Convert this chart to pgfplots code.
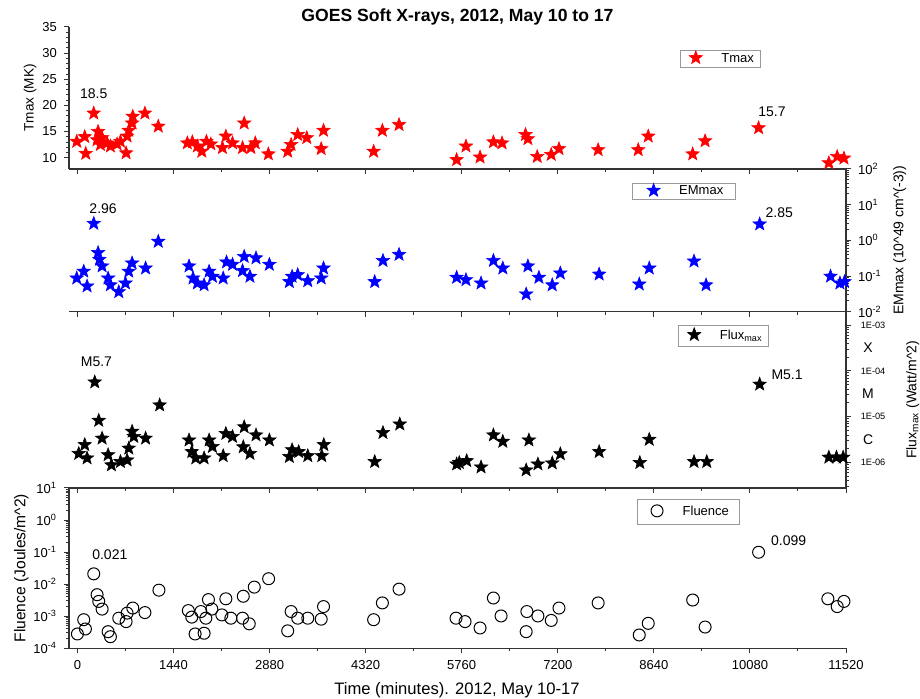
\documentclass[border=0pt]{standalone}
\usepackage{fontspec}
\setmainfont{Liberation Sans}
\usepackage{pgfplots}
\pgfplotsset{compat=1.18}

% filled five-pointed star mark
\pgfdeclareplotmark{fstar}{%
  \pgfpathmoveto{\pgfpointpolar{90}{\pgfplotmarksize}}%
  \pgfpathlineto{\pgfpointpolar{126}{0.42\pgfplotmarksize}}%
  \pgfpathlineto{\pgfpointpolar{162}{\pgfplotmarksize}}%
  \pgfpathlineto{\pgfpointpolar{198}{0.42\pgfplotmarksize}}%
  \pgfpathlineto{\pgfpointpolar{234}{\pgfplotmarksize}}%
  \pgfpathlineto{\pgfpointpolar{270}{0.42\pgfplotmarksize}}%
  \pgfpathlineto{\pgfpointpolar{306}{\pgfplotmarksize}}%
  \pgfpathlineto{\pgfpointpolar{342}{0.42\pgfplotmarksize}}%
  \pgfpathlineto{\pgfpointpolar{18}{\pgfplotmarksize}}%
  \pgfpathlineto{\pgfpointpolar{54}{0.42\pgfplotmarksize}}%
  \pgfpathclose
  \pgfusepathqfillstroke
}

\pgfplotstableread{
x T
-10 13.1
110 14.0
125 10.8
245 18.5
295 13.4
310 15.0
345 12.5
370 13.8
445 12.8
495 12.2
595 12.6
645 13.1
730 10.9
745 14.1
770 15.2
820 16.6
830 17.9
1012 18.5
1212 16.0
1648 12.8
1723 13.0
1798 12.2
1865 11.2
1934 13.1
2000 12.6
2174 11.9
2225 14.1
2325 12.8
2475 11.9
2500 16.6
2600 11.9
2666 12.8
2862 10.7
3152 11.2
3203 12.5
3302 14.4
3438 13.8
3654 11.7
3689 15.2
4440 11.2
4571 15.2
4821 16.3
5684 9.6
5824 12.2
6035 10.1
6235 13.0
6365 12.8
6716 14.4
6752 13.6
6892 10.2
7102 10.6
7218 11.7
7805 11.5
8406 11.5
8556 14.1
9222 10.7
9408 13.2
10210 15.7
11263 9.0
11388 10.2
11489 9.9
}\tmaxdata

\pgfplotstableread{
x EM
-10 0.087
95 0.135
145 0.052
245 2.96
310 0.45
330 0.29
370 0.19
460 0.087
495 0.056
620 0.036
720 0.063
770 0.135
820 0.23
1022 0.166
1212 0.93
1673 0.19
1733 0.087
1798 0.063
1899 0.056
1974 0.135
2024 0.097
2185 0.087
2235 0.245
2325 0.21
2475 0.14
2500 0.35
2586 0.097
2677 0.32
2877 0.21
3177 0.069
3218 0.097
3302 0.108
3453 0.073
3654 0.087
3689 0.166
4456 0.069
4580 0.27
4821 0.40
5684 0.091
5824 0.078
6050 0.063
6235 0.27
6376 0.166
6726 0.031
6752 0.19
6917 0.091
7117 0.056
7238 0.12
7820 0.112
8421 0.059
8571 0.166
9242 0.26
9423 0.056
10226 2.85
11288 0.098
11429 0.063
11498 0.069
}\emdata

\pgfplotstableread{
x F
20 1.58e-6
110 2.46e-6
145 1.26e-6
260 5.7e-5
320 8.3e-6
370 3.4e-6
460 1.48e-6
510 8.9e-7
645 1.05e-6
745 1.14e-6
770 2.06e-6
820 4.8e-6
845 3.7e-6
1022 3.4e-6
1233 1.8e-5
1673 3.1e-6
1714 1.73e-6
1774 1.26e-6
1899 1.26e-6
1974 3.1e-6
2024 2.24e-6
2185 1.41e-6
2225 4.3e-6
2325 3.7e-6
2486 2.2e-6
2500 6.0e-6
2586 1.58e-6
2677 4.0e-6
2877 3.1e-6
3177 1.35e-6
3218 1.9e-6
3317 1.73e-6
3453 1.41e-6
3663 1.41e-6
3693 2.46e-6
4456 1.05e-6
4580 4.5e-6
4832 6.9e-6
5684 9.3e-7
5724 1.0e-6
5835 1.1e-6
6050 8.0e-7
6235 4.0e-6
6376 2.9e-6
6726 6.9e-7
6767 3.1e-6
6902 9.3e-7
7117 9.8e-7
7238 1.55e-6
7820 1.73e-6
8430 1.0e-6
8571 3.2e-6
9242 1.05e-6
9433 1.05e-6
10226 5.1e-5
11263 1.31e-6
11377 1.31e-6
11477 1.31e-6
}\fluxdata

\pgfplotstableread{
x Fl
0 2.8e-4
95 7.8e-4
120 4.0e-4
245 0.021
295 4.7e-3
320 2.9e-3
370 1.67e-3
460 3.3e-4
495 2.3e-4
620 8.7e-4
730 6.8e-4
745 1.25e-3
830 1.8e-3
1012 1.3e-3
1222 6.5e-3
1663 1.5e-3
1714 9.4e-4
1764 2.8e-4
1850 1.4e-3
1899 2.95e-4
1925 8.7e-4
1964 3.3e-3
2015 1.67e-3
2165 1.1e-3
2225 3.5e-3
2300 8.7e-4
2475 8.7e-4
2486 4.2e-3
2576 5.8e-4
2651 8.1e-3
2866 0.0148
3152 3.5e-4
3203 1.4e-3
3302 8.7e-4
3453 8.7e-4
3654 8.1e-4
3689 2.0e-3
4440 7.8e-4
4571 2.6e-3
4821 7.0e-3
5675 8.7e-4
5810 6.8e-4
6035 4.3e-4
6235 3.7e-3
6350 1.02e-3
6726 3.3e-4
6737 1.4e-3
6902 1.02e-3
7102 7.4e-4
7218 1.8e-3
7805 2.6e-3
8421 2.6e-4
8556 6.0e-4
9222 3.2e-3
9408 4.6e-4
10210 0.099
11248 3.5e-3
11388 2.0e-3
11489 2.9e-3
}\fluencedata

\tikzset{ann/.style={font=\fontsize{7}{8}\selectfont}}

\pgfplotsset{
  panel/.style={
    scale only axis, width=388.5pt, anchor=south west,
    xmin=-126, xmax=11520,
    xtick={0,1440,...,11520}, minor xtick={720,2160,...,10800},
    xticklabels={}, scaled x ticks=false,
    tick align=outside,
    major tick length=2.5pt, minor tick length=1.6pt,
    axis line style={line width=0.6pt, black!80},
    every tick/.append style={line width=0.5pt, black!80},
    tick label style={font=\fontsize{6.5}{7}\selectfont},
    ylabel style={font=\fontsize{7}{8}\selectfont},
    legend image code/.code={%
      \path[draw=none, fill=none] (0cm,-0.105cm) rectangle (0.62cm,0.155cm);
      \draw[##1] plot coordinates {(0.24cm,0.025cm)};},
    legend style={draw=black!40, line width=0.4pt,
      font=\fontsize{6.5}{7}\selectfont, anchor=north west,
      inner xsep=1pt, inner ysep=0pt, nodes={inner ysep=1pt}},
    /pgf/number format/assume math mode=true,
    /pgf/number format/1000 sep={},
  },
}

\begin{document}
\begin{tikzpicture}
\path[use as bounding box] (0,0) rectangle (460pt,349.5pt);

% Tmax
\begin{axis}[panel, at={(34.5pt,265pt)}, height=71pt,
  ymin=7.84, ymax=35, ytick={10,15,...,35}, minor y tick num=4,
  axis x line*=bottom, axis y line*=left,
  ylabel={Tmax (MK)},
  ylabel style={at={(axis description cs:-0.050,0.5)}, anchor=center, font=\fontsize{6.8}{8}\selectfont},
  legend style={at={(axis description cs:0.786,0.838)}}]
\addplot[only marks, mark=fstar, mark size=3.5pt, mark options={fill=red, draw=red, line width=0.3pt}] table[x=x, y=T] {\tmaxdata};
\legend{Tmax}
\node[ann] at (axis cs:245,22.2) {18.5};
\node[ann] at (axis cs:10410,18.7) {15.7};
\end{axis}

% EMmax
\begin{axis}[panel, at={(34.5pt,193.65pt)}, height=71.35pt,
  ymode=log, ymin=1e-2, ymax=1e2,
  ytick={1e-2,1e-1,1,1e1,1e2},
  minor ytick={0.02,0.03,0.04,0.05,0.06,0.07,0.08,0.09,0.2,0.3,0.4,0.5,0.6,0.7,0.8,0.9,2,3,4,5,6,7,8,9,20,30,40,50,60,70,80,90},
  yticklabels={10\textsuperscript{-2},10\textsuperscript{-1},10\textsuperscript{0},10\textsuperscript{1},10\textsuperscript{2}},
  axis x line*=bottom, axis y line*=right,
  ylabel={EMmax (10\textasciicircum 49 cm\textasciicircum(-3))},
  ylabel style={at={(axis description cs:1.069,0.5)}, anchor=center},
  legend style={at={(axis description cs:0.724,0.904)}, inner xsep=4pt}]
\addplot[only marks, mark=fstar, mark size=3.5pt, mark options={fill=blue, draw=blue, line width=0.3pt}] table[x=x, y=EM] {\emdata};
\legend{EMmax}
\node[ann] at (axis cs:385,7.76) {2.96};
\node[ann] at (axis cs:10520,5.98) {2.85};
\end{axis}

% Flux
\begin{axis}[panel, at={(34.5pt,105.5pt)}, height=88.15pt,
  ymode=log, ymin=2.81e-7, ymax=1.95e-3,
  ytick={1e-6,1e-5,1e-4,1e-3},
  minor ytick={3e-7,4e-7,5e-7,6e-7,7e-7,8e-7,9e-7,2e-6,3e-6,4e-6,5e-6,6e-6,7e-6,8e-6,9e-6,2e-5,3e-5,4e-5,5e-5,6e-5,7e-5,8e-5,9e-5,2e-4,3e-4,4e-4,5e-4,6e-4,7e-4,8e-4,9e-4},
  yticklabels={1E-06,1E-05,1E-04,1E-03},
  extra y ticks={3.16e-6,3.16e-5,3.16e-4},
  extra y tick labels={C,M,X},
  extra y tick style={major tick length=0pt, yticklabel style={font=\fontsize{7}{8}\selectfont}},
  yticklabel style={text width=15pt, align=center, font=\fontsize{4.6}{5.5}\selectfont},
  axis x line*=bottom, axis y line*=right,
  ylabel={Flux\textsubscript{max} (Watt/m\textasciicircum 2)},
  ylabel style={at={(axis description cs:1.086,0.5)}, anchor=center},
  legend style={at={(axis description cs:0.784,0.925)}, inner ysep=1pt}]
\addplot[only marks, mark=fstar, mark size=3.5pt, mark options={fill=black, draw=black, line width=0.3pt}] table[x=x, y=F] {\fluxdata};
\legend{Flux\textsubscript{max}}
\node[ann] at (axis cs:285,1.58e-4) {M5.7};
\node[ann] at (axis cs:10637,8.1e-5) {M5.1};
\end{axis}

% Fluence
\begin{axis}[panel, at={(34.5pt,25.35pt)}, height=80.15pt,
  ymode=log, ymin=1e-4, ymax=10,
  ytick={1e-4,1e-3,1e-2,1e-1,1,10},
  minor ytick={2e-4,3e-4,4e-4,5e-4,6e-4,7e-4,8e-4,9e-4,2e-3,3e-3,4e-3,5e-3,6e-3,7e-3,8e-3,9e-3,0.02,0.03,0.04,0.05,0.06,0.07,0.08,0.09,0.2,0.3,0.4,0.5,0.6,0.7,0.8,0.9,2,3,4,5,6,7,8,9},
  yticklabels={10\textsuperscript{-4},10\textsuperscript{-3},10\textsuperscript{-2},10\textsuperscript{-1},10\textsuperscript{0},10\textsuperscript{1}},
  xticklabels={0,1440,2880,4320,5760,7200,8640,10080,11520},
  axis x line*=bottom, axis y line*=left,
  ylabel={Fluence (Joules/m\textasciicircum 2)},
  ylabel style={at={(axis description cs:-0.0615,0.5)}, anchor=center, font=\fontsize{7.8}{9}\selectfont},
  legend style={at={(axis description cs:0.731,0.931)}, inner xsep=3pt, inner ysep=2pt}]
\addplot[only marks, mark=o, mark size=3pt, mark options={draw=black, line width=0.5pt}] table[x=x, y=Fl] {\fluencedata};
\legend{Fluence}
\node[ann] at (axis cs:486,0.085) {0.021};
\node[ann] at (axis cs:10660,0.233) {0.099};
\end{axis}

\node[font=\bfseries\fontsize{8.8}{10}\selectfont] at (228.75pt,341pt) {GOES Soft X-rays, 2012, May 10 to 17};
\node[font=\fontsize{8.3}{10}\selectfont] at (228.5pt,4.5pt) {Time (minutes). 2012, May 10-17};
\end{tikzpicture}
\end{document}
